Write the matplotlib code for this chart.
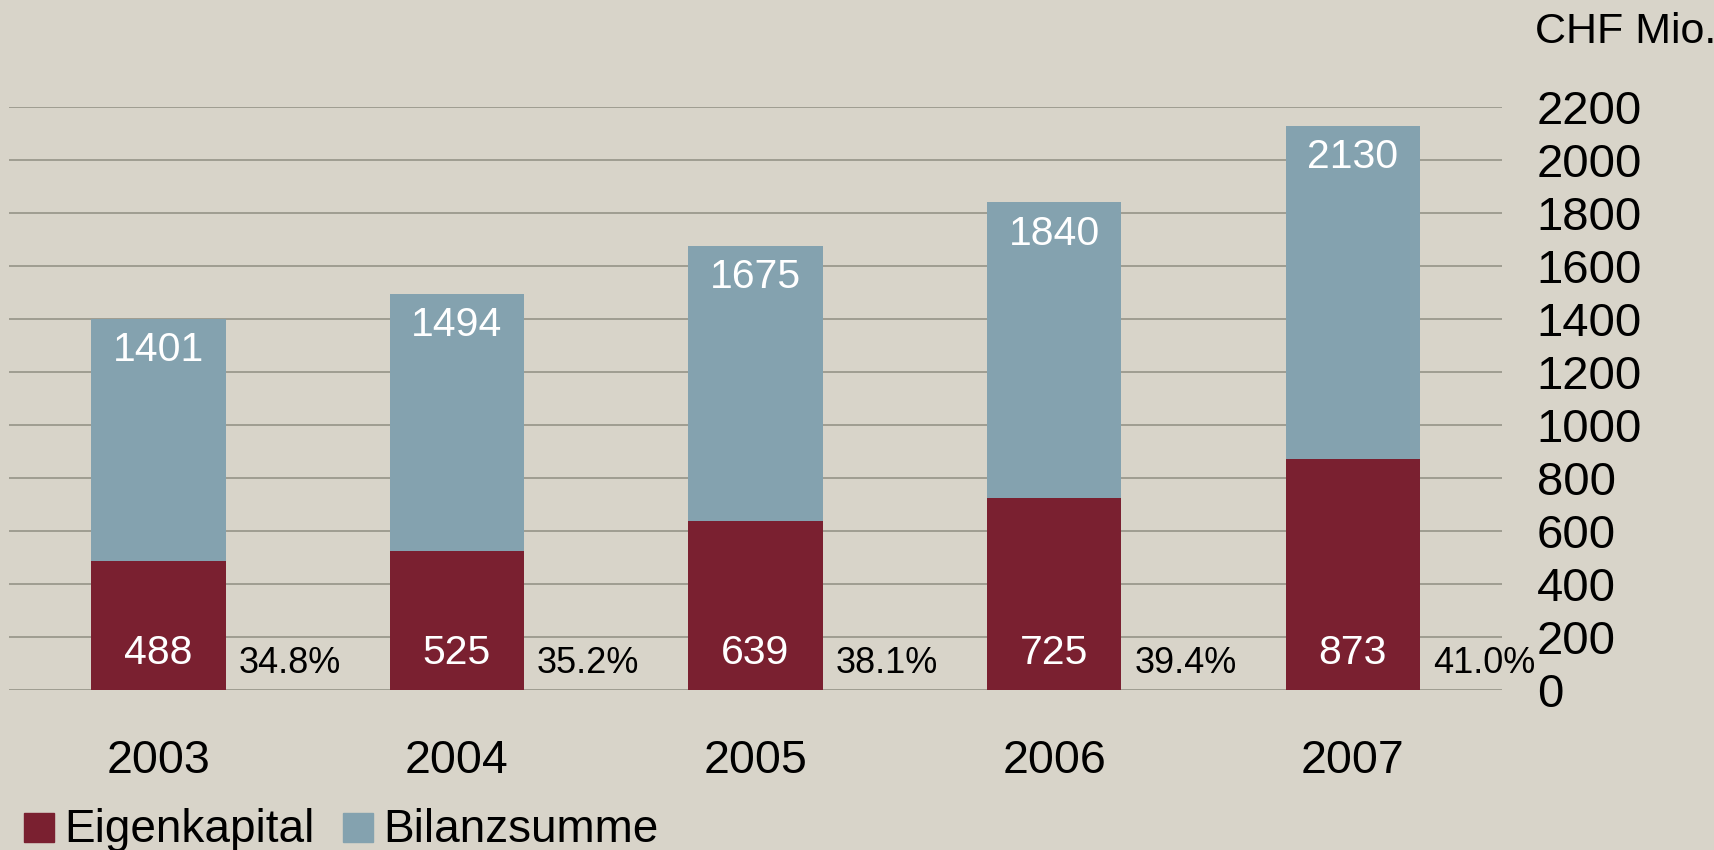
import matplotlib
matplotlib.use("Agg")
import matplotlib.pyplot as plt
from matplotlib.patches import Rectangle

years = ["2003", "2004", "2005", "2006", "2007"]
bilanzsumme = [1401, 1494, 1675, 1840, 2130]
eigenkapital = [488, 525, 639, 725, 873]
quote = ["34.8%", "35.2%", "38.1%", "39.4%", "41.0%"]
yticks = list(range(0, 2201, 200))

bg = "#D8D4C9"
red = "#7A2030"
blue = "#84A2AF"

plt.rcParams["font.family"] = ["Liberation Sans", "DejaVu Sans"]

W, H = 1715, 850
fig = plt.figure(figsize=(W / 100, H / 100), dpi=100, facecolor=bg)
ax = fig.add_axes([0.0053, 0.1882, 0.8705, 0.6859], facecolor=bg)

x = list(range(len(years)))
w = 0.45
ax.bar(x, bilanzsumme, width=w, color=blue, zorder=2)
ax.bar(x, eigenkapital, width=w, color=red, zorder=3)

for i in x:
    ax.annotate(str(bilanzsumme[i]), (i, bilanzsumme[i]), xytext=(0, -22.5),
                textcoords="offset points", ha="center", va="center",
                color="white", fontsize=29.5, zorder=4)
    ax.text(i, 140, str(eigenkapital[i]), ha="center", va="center",
            color="white", fontsize=29.5, zorder=4)
    ax.text(i + 0.44, 101, quote[i], ha="center", va="center",
            color="black", fontsize=26, zorder=4)

ax.set_xlim(-0.5, len(years) - 0.5)
ax.set_ylim(0, 2200)
ax.set_yticks(yticks)
ax.yaxis.tick_right()
ax.tick_params(axis="y", length=0, pad=25, labelsize=34)
ax.set_xticks(x)
ax.set_xticklabels(years)
ax.tick_params(axis="x", length=0, pad=35, labelsize=33.5)
ax.grid(axis="y", color="#9B998D", linewidth=1.3, zorder=1)
for s in ax.spines.values():
    s.set_visible(False)

fig.text(0.895, 0.962, "CHF Mio.", fontsize=31, ha="left", va="center")

# legend: coloured squares with labels along the bottom edge
legend_items = [(red, "Eigenkapital", 24, 64), (blue, "Bilanzsumme", 343, 383)]
for color, label, sx, tx in legend_items:
    fig.patches.append(Rectangle((sx / W, 1 - 842 / H), 30 / W, 29 / H,
                                 transform=fig.transFigure, color=color))
    fig.text(tx / W, 1 - 842 / H, label, fontsize=33, ha="left", va="baseline")

fig.savefig("out.png", facecolor=bg)
